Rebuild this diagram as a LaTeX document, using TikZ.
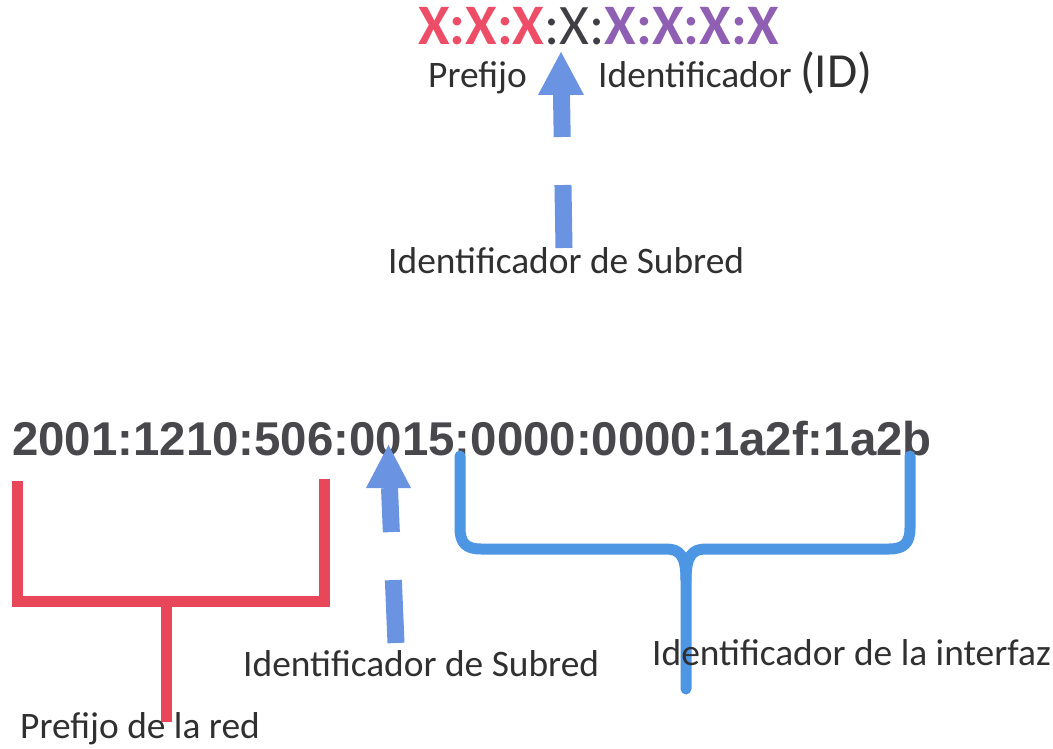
\documentclass[tikz,border=0pt]{standalone}
\usepackage{fontspec}
\setmainfont{Carlito}
\newfontfamily\addrfont{Liberation Sans}
\usetikzlibrary{arrows.meta}
\definecolor{txt}{HTML}{303030}
\definecolor{xred}{HTML}{EE4D68}
\definecolor{xpur}{HTML}{8F5FB4}
\definecolor{xgray}{HTML}{3E3E44}
\definecolor{bred}{HTML}{E8475A}
\definecolor{barrow}{HTML}{6A93E2}
\definecolor{bbrace}{HTML}{4C96E4}
\definecolor{addr}{HTML}{47474C}
\tikzset{
  lbl/.style={anchor=base west, inner sep=0pt, text=txt, font=\fontsize{37.4}{40}\selectfont},
  redbrace/.style={draw=bred, line width=11pt, line join=miter},
  bluebrace/.style={draw=bbrace, line width=11pt, line cap=round, line join=round},
  shaftline/.style={draw=barrow, line width=17pt, dash pattern=on 63pt off 48pt on 60pt},
  headfill/.style={fill=barrow}
}
\begin{document}
\begin{tikzpicture}[x=1pt,y=-1pt]
\useasboundingbox[fill=white] (0,0) rectangle (1053,749);
% top group
\node[anchor=base west, inner sep=0pt, font=\fontsize{57.3}{60}\selectfont] (xs) at (418,45)
  {\textcolor{xred}{\bfseries X:X:X}\textcolor{xgray}{:X:}\textcolor{xpur}{\bfseries X:X:X:X}};
\node[lbl] (pref) at (428,88) {Prefijo};
\node[lbl] (ident) at (598,88) {Identificador \fontsize{49}{52}\selectfont(ID)};
\node[lbl] (sub1) at (388,273) {Identificador de Subred};
% top arrow
\coordinate (a1b) at (564,248);
\coordinate (a1h) at (561.5,95);
\coordinate (a1t) at (561,52);
\draw[shaftline] (a1b) -- (a1h);
\fill[headfill] (538,95) -- (a1t) -- (584,95) -- cycle;
% bottom address
\node[anchor=base west, inner sep=0pt, text=addr, font=\addrfont\bfseries\fontsize{47.4}{50}\selectfont] (ip) at (12,455)
  {2001:1210:506:0015:0000:0000:1a2f:1a2b};
% bottom arrow
\coordinate (a2b) at (396,643);
\coordinate (a2h) at (389.5,488);
\coordinate (a2t) at (388.5,445);
\draw[shaftline] (a2b) -- (a2h);
\fill[headfill] (366,488) -- (a2t) -- (411,488) -- cycle;
% red bracket
\draw[redbrace] (17,481) -- (17,601) -- (324,601) -- (324,479);
\draw[redbrace] (166,601) -- (166,722);
% blue brace
\draw[bluebrace] (460,456) -- (460,528) .. controls (460,543) and (466,549) .. (481,549) -- (666,549)
   .. controls (680,549) and (686,556) .. (686,580) -- (686,689);
\draw[bluebrace] (910,456) -- (910,528) .. controls (910,543) and (904,549) .. (889,549) -- (706,549)
   .. controls (692,549) and (686,556) .. (686,580);
% labels
\node[lbl] (sub2) at (243,676) {Identificador de Subred};
\node[lbl] (intf) at (652,665) {Identificador de la interfaz};
\node[lbl] (red) at (20,738) {Prefijo de la red};
\end{tikzpicture}
\end{document}
